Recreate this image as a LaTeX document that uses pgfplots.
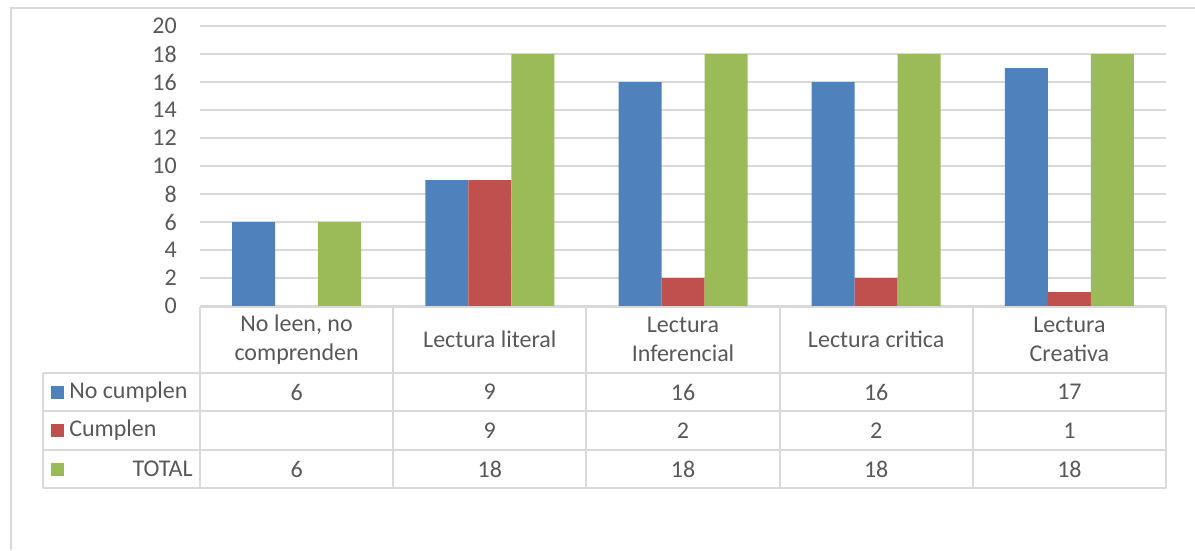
\documentclass[border=0pt]{standalone}
\usepackage{fontspec}
\setmainfont{Carlito}
\usepackage{pgfplots}
\pgfplotsset{compat=1.18}

\definecolor{cblue}{HTML}{4F81BD}
\definecolor{cred}{HTML}{C0504D}
\definecolor{cgreen}{HTML}{9BBB59}
\definecolor{txtgray}{HTML}{595959}
\definecolor{linegray}{HTML}{D9D9D9}
\newcommand\chartfont{\fontsize{18}{21.5}\selectfont}

\begin{document}
\begin{tikzpicture}
% 1 px of the reference = 0.75pt
\path[use as bounding box] (0,0) rectangle (896.25pt,-412.5pt);

\begin{axis}[
    at={(150pt,-229.5pt)}, anchor=south west,
    scale only axis,
    width=724.5pt, height=210pt,
    xmin=-0.5, xmax=4.5,
    ymin=0, ymax=20,
    ytick={0,2,...,20},
    xtick=\empty,
    ymajorgrids,
    grid style={draw=linegray, line width=0.9pt},
    axis line style={draw=none},
    major tick length=0pt,
    yticklabel style={font=\chartfont, text=txtgray, anchor=east,
                      inner sep=0pt, xshift=-17.25pt},
    /pgf/number format/assume math mode=true,
    ybar=0pt,
    bar width=32.25pt,
    clip=false,
]
\addplot[fill=cblue, draw=none] coordinates {(0,6) (1,9) (2,16) (3,16) (4,17)};
\addplot[fill=cred, draw=none] coordinates {(1,9) (2,2) (3,2) (4,1)};
\addplot[fill=cgreen, draw=none] coordinates {(0,6) (1,18) (2,18) (3,18) (4,18)};
\end{axis}

\begin{scope}[x=0.75pt, y=0.75pt]
  % outer chart frame (partly visible)
  \draw[linegray, line width=1.2pt] (11,-550) -- (11,-8) -- (1195,-8);

  % data table grid
  \begin{scope}[linegray, line width=1.5pt]
    \draw (200,-307) -- (1166,-307);
    \foreach \yy in {373,411,450,488} \draw (43,-\yy) -- (1166,-\yy);
    \foreach \i in {0,...,5} \draw ({200+193.2*\i},-307) -- ({200+193.2*\i},-488);
    \draw (43,-373) -- (43,-488);
  \end{scope}

  \begin{scope}[font=\chartfont, text=txtgray]
    % header
    \node[align=center] at (296.6,-339.5) {No leen, no\\comprenden};
    \node at (489.8,-339.5) {Lectura literal};
    \node[align=center] at (683,-339.5) {Lectura\\Inferencial};
    \node at (876.2,-339.5) {Lectura critica};
    \node[align=center] at (1069.4,-339.5) {Lectura\\Creativa};

    % legend keys and row names
    \fill[cblue] (51,-385.5) rectangle (64,-398.5);
    \fill[cred] (51,-424) rectangle (64,-437);
    \fill[cgreen] (51,-462.5) rectangle (64,-475.5);
    \node[anchor=west, inner sep=0pt] at (69,-392) {No cumplen};
    \node[anchor=west, inner sep=0pt] at (69,-430.5) {Cumplen};
    \node[anchor=east, inner sep=0pt] at (193,-469) {TOTAL};

    % values
    \foreach \v [count=\i from 0] in {6,9,16,16,17}
      \node at ({296.6+193.2*\i},-392) {\v};
    \foreach \v [count=\i from 1] in {9,2,2,1}
      \node at ({296.6+193.2*\i},-430.5) {\v};
    \foreach \v [count=\i from 0] in {6,18,18,18,18}
      \node at ({296.6+193.2*\i},-469) {\v};
  \end{scope}
\end{scope}
\end{tikzpicture}
\end{document}
